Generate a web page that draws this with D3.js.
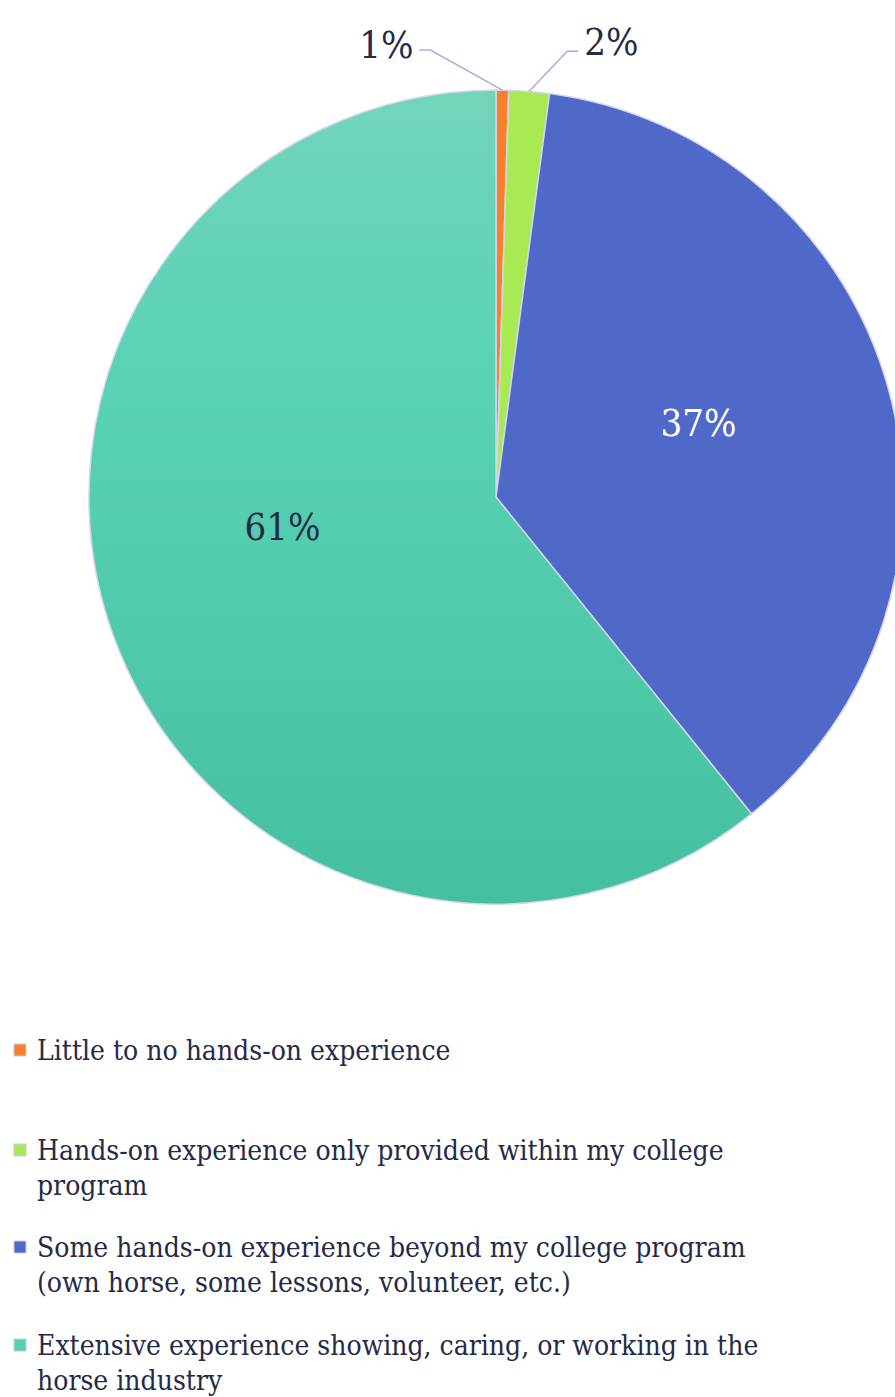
<!DOCTYPE html>
<html lang="en">
<head>
<meta charset="UTF-8">
<script src="https://d3js.org/d3.v7.min.js"></script>
<style>
body{ margin:0; background:#fff; }
svg{ display:block; }
svg text{ font-family: "DejaVu Serif Condensed", "DejaVu Serif", serif; font-stretch: condensed; }
</style>
</head>
<body>
<svg width="895" height="1397"></svg>
<script>
// data
const categories = [
	"Little to no hands-on experience",
	"Hands-on experience only provided within my college program",
	"Some hands-on experience beyond my college program (own horse, some lessons, volunteer, etc.)",
	"Extensive experience showing, caring, or working in the horse industry"
];
const values = [0.5, 1.6, 37.1, 60.8];
const labels = ["1%", "2%", "37%", "61%"];
const legendLines = [
	["Little to no hands-on experience"],
	["Hands-on experience only provided within my college", "program"],
	["Some hands-on experience beyond my college program", "(own horse, some lessons, volunteer, etc.)"],
	["Extensive experience showing, caring, or working in the", "horse industry"]
];
const colors = ["#f7812b", "#a9e951", "#5068c8", "url(#tealGrad)"];
const swatch = ["#f7812b", "#a9e951", "#5068c8", "#55d0b0"];

const svg = d3.select("svg");
const cx = 496, cy = 497, r = 407;
const textColor = "#252a48";

let defs = svg.append("defs");
let grad = defs.append("linearGradient")
	.attr("id", "tealGrad")
	.attr("gradientUnits", "userSpaceOnUse")
	.attr("x1", 0).attr("y1", -r).attr("x2", 0).attr("y2", r);
grad.append("stop").attr("offset", "0%").attr("stop-color", "#73d5ba");
grad.append("stop").attr("offset", "35%").attr("stop-color", "#59d3b4");
grad.append("stop").attr("offset", "100%").attr("stop-color", "#45c09f");

const pie = d3.pie().sort(null).value(d => d);
const arcs = pie(values);
const arc = d3.arc().innerRadius(0).outerRadius(r);

const g = svg.append("g").attr("transform", `translate(${cx},${cy})`);

g.selectAll("path.slice")
	.data(arcs)
	.join("path")
	.attr("class", "slice")
	.attr("d", arc)
	.attr("fill", (d, i) => colors[i])
	.attr("stroke", "#d4d6ee")
	.attr("stroke-width", 1.5);

// inside labels for the big slices, nudged a little toward where the original put them
const angleNudge = {2: -0.08, 3: 0.2};
function labelPos(d) {
	let a = (d.startAngle + d.endAngle) / 2 + (angleNudge[d.index] || 0);
	let rr = r * 0.53;
	return [Math.sin(a) * rr, -Math.cos(a) * rr];
}
g.selectAll("text.inlabel")
	.data(arcs.filter(d => d.value > 10))
	.join("text")
	.attr("class", "inlabel")
	.attr("x", d => labelPos(d)[0])
	.attr("y", d => labelPos(d)[1])
	.attr("text-anchor", "middle")
	.attr("dy", "0.35em")
	.attr("font-size", 38)
	.attr("fill", d => d.index == 2 ? "#ffffff" : textColor)
	.text(d => labels[d.index]);

// outside labels with leader lines for the tiny slices
const small = arcs.filter(d => d.value <= 10);
small.forEach(function(d) {
	let a = (d.startAngle + d.endAngle) / 2;
	let px = Math.sin(a) * r, py = -Math.cos(a) * r;
	let side = d.index == 0 ? -1 : 1;
	let ex = px + side * (d.index == 0 ? 72 : 38);
	let ey = py - 40;
	let hx = ex + side * 11;
	g.append("polyline")
		.attr("points", `${px},${py} ${ex},${ey} ${hx},${ey}`)
		.attr("fill", "none")
		.attr("stroke", "#a6aedc")
		.attr("stroke-width", 1.5);
	g.append("text")
		.attr("x", hx + side * 6)
		.attr("y", ey)
		.attr("dy", d.index == 0 ? "0.2em" : "0.1em")
		.attr("text-anchor", side < 0 ? "end" : "start")
		.attr("font-size", 38)
		.attr("fill", textColor)
		.text(labels[d.index]);
});

// legend
const legendY = [1060, 1160, 1257, 1355];
const legend = svg.append("g");
categories.forEach(function(c, i) {
	let row = legend.append("g").attr("transform", `translate(0,${legendY[i]})`);
	row.append("rect")
		.attr("x", 14).attr("y", -16)
		.attr("width", 12).attr("height", 12)
		.attr("fill", swatch[i])
		.attr("stroke", "#c9cbe6").attr("stroke-width", 1);
	row.append("text")
		.attr("x", 37)
		.attr("font-size", 28)
		.attr("fill", textColor)
		.selectAll("tspan")
		.data(legendLines[i])
		.join("tspan")
		.attr("x", 37)
		.attr("dy", (t, j) => j == 0 ? 0 : 35)
		.text(t => t);
});
</script>
</body>
</html>
